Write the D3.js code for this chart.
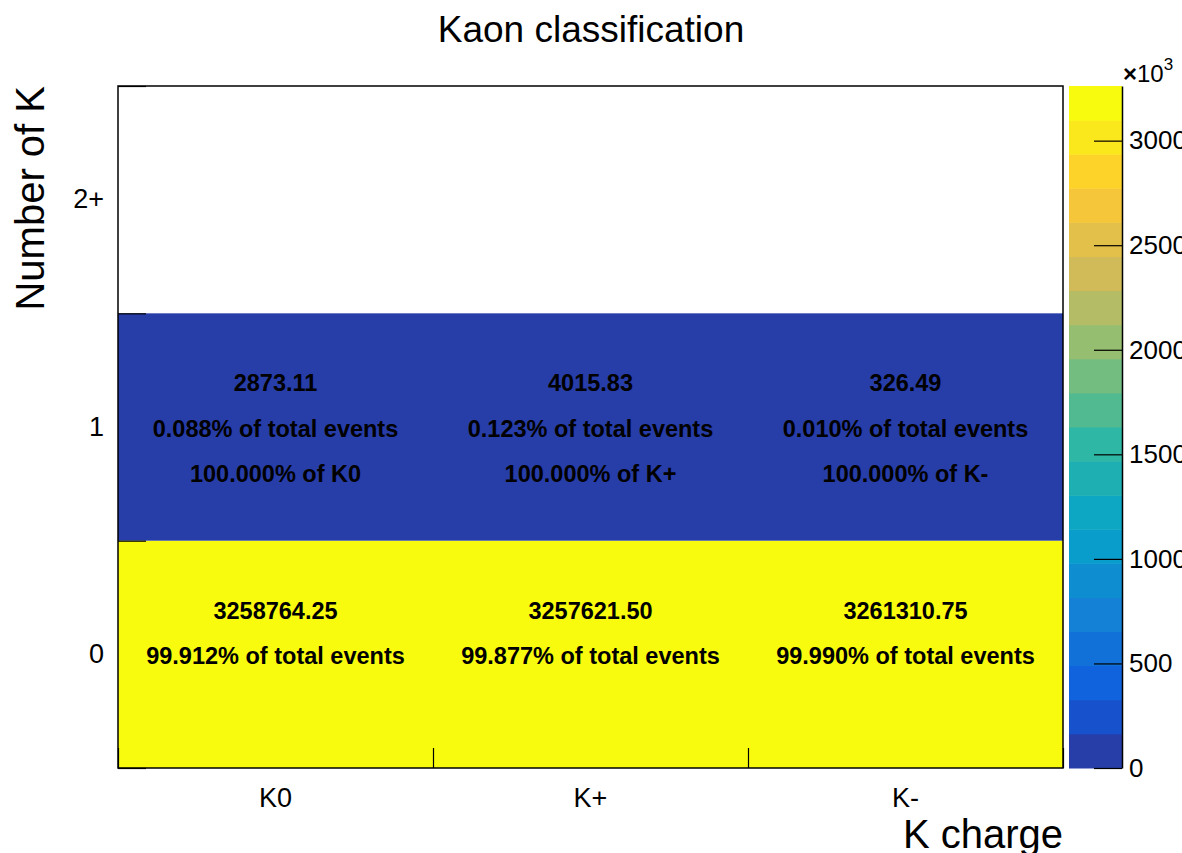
<!DOCTYPE html>
<html>
<head>
<meta charset="utf-8">
<script src="https://cdn.jsdelivr.net/npm/d3@7"></script>
<style>
  body { margin: 0; background: #fff; }
  svg { font-family: "Liberation Sans", Arial, sans-serif; }
</style>
</head>
<body>
<svg id="chart" width="1182" height="853"></svg>
<script>
// data
const charges = ["K0", "K+", "K-"];
const kaonCounts = ["0", "1", "2+"];
// rows follow kaonCounts, columns follow charges
const counts = [
  [3258764.25, 3257621.50, 3261310.75],
  [2873.11, 4015.83, 326.49],
  [0, 0, 0]
];
const paletteTicks = [0, 500, 1000, 1500, 2000, 2500, 3000];

// kBird palette stops (ROOT)
const birdStops = [0.0000, 0.1250, 0.2500, 0.3750, 0.5000, 0.6250, 0.7500, 0.8750, 1.0000];
const birdRed   = [0.2082, 0.0592, 0.0780, 0.0232, 0.1802, 0.5301, 0.8186, 0.9956, 0.9764];
const birdGreen = [0.1664, 0.3599, 0.5041, 0.6419, 0.7178, 0.7492, 0.7328, 0.7862, 0.9832];
const birdBlue  = [0.5293, 0.8684, 0.8385, 0.7914, 0.6425, 0.4662, 0.3499, 0.1968, 0.0539];
const nContours = 20;

const svg = d3.select("#chart");
const frame = {left: 118, right: 1063, top: 86, bottom: 768};
const pal = {left: 1069, right: 1122};

function birdColor(f) {
  let i = d3.bisectRight(birdStops, f) - 1;
  if (i >= birdStops.length - 1) i = birdStops.length - 2;
  let t = (f - birdStops[i]) / (birdStops[i + 1] - birdStops[i]);
  let r = birdRed[i] + t * (birdRed[i + 1] - birdRed[i]),
    g = birdGreen[i] + t * (birdGreen[i + 1] - birdGreen[i]),
    b = birdBlue[i] + t * (birdBlue[i + 1] - birdBlue[i]);
  return d3.rgb(r * 255, g * 255, b * 255).formatHex();
}
// colour of contour band like ROOT does it
function bandColor(k) {
  let idx = Math.floor((k + 0.99) * 255 / nContours);
  return birdColor(Math.min(idx, 254) / 254);
}

const zMax = d3.max(counts.flat());
const zBand = d3.scaleQuantize().domain([0, zMax]).range(d3.range(nContours));

const x = d3.scaleBand().domain(charges).range([frame.left, frame.right]);
const y = d3.scaleBand().domain(kaonCounts).range([frame.bottom, frame.top]);
const xEdge = d3.scaleLinear().domain([0, charges.length]).range([frame.left, frame.right]);
const yEdge = d3.scaleLinear().domain([0, kaonCounts.length]).range([frame.bottom, frame.top]);

// cells
let cells = [];
counts.forEach((row, r) => row.forEach((v, c) => cells.push({r: r, c: c, v: v})));

svg.append("g").selectAll("rect")
  .data(cells.filter(d => d.v > 0))
  .enter().append("rect")
  .attr("x", d => x(charges[d.c]))
  .attr("y", d => y(kaonCounts[d.r]))
  .attr("width", x.bandwidth())
  .attr("height", y.bandwidth())
  .attr("fill", d => bandColor(zBand(d.v)));

// cell texts
const colTotal = charges.map((ch, c) => d3.sum(counts, row => row[c]));
function cellLines(d) {
  let lines = [d.v.toFixed(2), (100 * d.v / colTotal[d.c]).toFixed(3) + "% of total events"];
  if (d.r > 0) {
    let withK = d3.sum(counts.slice(1), row => row[d.c]);
    lines.push((100 * d.v / withK).toFixed(3) + "% of " + charges[d.c]);
  }
  return lines;
}
let texts = svg.append("g").selectAll("g")
  .data(cells.filter(d => d.v > 0))
  .enter().append("g")
  .attr("transform", d => "translate(" + (x(charges[d.c]) + x.bandwidth() / 2) + "," + (y(kaonCounts[d.r]) + y.bandwidth() / 2) + ")");
texts.selectAll("text")
  .data(d => cellLines(d))
  .enter().append("text")
  .attr("x", 0)
  .attr("y", (d, i) => (i - 1) * 45.5 + 1.5)
  .attr("dy", "0.36em")
  .attr("text-anchor", "middle")
  .attr("font-size", "23.5px")
  .attr("font-weight", "bold")
  .attr("fill", "#000")
  .text(d => d);

// frame
svg.append("rect")
  .attr("x", frame.left).attr("y", frame.top)
  .attr("width", frame.right - frame.left).attr("height", frame.bottom - frame.top)
  .attr("fill", "none").attr("stroke", "#000").attr("stroke-width", 1.5);

// x axis: edge ticks + centred labels
svg.append("g")
  .attr("transform", "translate(0," + frame.bottom + ")")
  .call(d3.axisBottom(xEdge).ticks(charges.length).tickSize(-20).tickFormat(""))
  .call(g => g.select(".domain").remove())
  .selectAll("line").attr("stroke-width", 1.2);
svg.append("g")
  .attr("transform", "translate(0," + frame.bottom + ")")
  .call(d3.axisBottom(x).tickSize(0).tickPadding(20))
  .call(g => g.select(".domain").remove())
  .selectAll("text").attr("font-size", "27px").attr("font-family", "Liberation Sans, Arial, sans-serif").attr("fill", "#000");

// y axis
svg.append("g")
  .attr("transform", "translate(" + frame.left + ",0)")
  .call(d3.axisRight(yEdge).ticks(kaonCounts.length).tickSize(28).tickFormat(""))
  .call(g => g.select(".domain").remove())
  .selectAll("line").attr("stroke-width", 1.2);
svg.append("g")
  .attr("transform", "translate(" + frame.left + ",0)")
  .call(d3.axisLeft(y).tickSize(0).tickPadding(14))
  .call(g => g.select(".domain").remove())
  .selectAll("text").attr("font-size", "27px").attr("font-family", "Liberation Sans, Arial, sans-serif").attr("fill", "#000");

// palette
const zScale = d3.scaleLinear().domain([0, zMax / 1000]).range([frame.bottom, frame.top]);
const bandH = (frame.bottom - frame.top) / nContours;
svg.append("g").selectAll("rect")
  .data(d3.range(nContours))
  .enter().append("rect")
  .attr("x", pal.left)
  .attr("y", k => frame.bottom - (k + 1) * bandH)
  .attr("width", pal.right - pal.left)
  .attr("height", bandH + 0.5)
  .attr("fill", k => bandColor(k));

let zAxis = svg.append("g")
  .attr("transform", "translate(" + pal.right + ",0)")
  .call(d3.axisRight(zScale).tickValues(paletteTicks).tickFormat(d3.format("d"))
    .tickSize(-28).tickPadding(7).tickSizeOuter(0));
zAxis.select(".domain").attr("stroke-width", 1.5);
zAxis.selectAll("line").attr("stroke-width", 1.2);
zAxis.selectAll("text").attr("font-size", "26px").attr("font-family", "Liberation Sans, Arial, sans-serif").attr("fill", "#000");

let expo = svg.append("text")
  .attr("x", 1123).attr("y", 82)
  .attr("font-size", "24px").attr("fill", "#000");
expo.append("tspan").attr("font-weight", "bold").text("×");
expo.append("tspan").text("10");
expo.append("tspan").attr("font-size", "17px").attr("dy", -12).text("3");

// titles
svg.append("text")
  .attr("x", 591).attr("y", 42)
  .attr("text-anchor", "middle")
  .attr("font-size", "37px")
  .text("Kaon classification");

svg.append("text")
  .attr("x", frame.right).attr("y", 848)
  .attr("text-anchor", "end")
  .attr("font-size", "40px")
  .text("K charge");

svg.append("text")
  .attr("transform", "translate(44," + frame.top + ") rotate(-90)")
  .attr("text-anchor", "end")
  .attr("font-size", "40px")
  .text("Number of K");
</script>
</body>
</html>
